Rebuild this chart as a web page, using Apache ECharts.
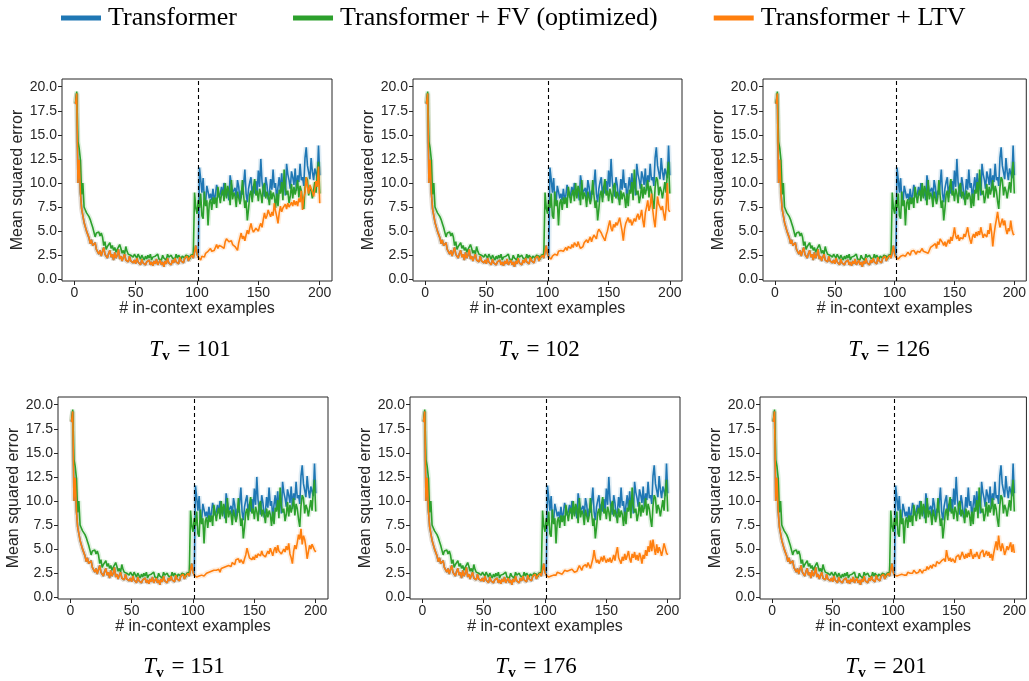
<!DOCTYPE html>
<html>
<head>
<meta charset="utf-8">
<script src="https://cdn.jsdelivr.net/npm/echarts@6/dist/echarts.min.js"></script>
<style>
  html, body { margin: 0; padding: 0; background: #fff; }
  #chart { width: 1029px; height: 681px; }
</style>
</head>
<body>
<div id="chart"></div>
<script>
// Number of in-context examples (x positions 1..200)
const examples = Array.from({ length: 200 }, (_, i) => i + 1);

// Baseline transformer MSE per number of in-context examples
const transformer = [
  18.2, 19.3, 10.0, 12.4, 9.0, 7.3, 6.6, 5.9, 6.1, 5.0,
  4.8, 4.3, 3.7, 4.1, 3.5, 3.3, 3.8, 3.1, 3.2, 2.6,
  3.0, 2.4, 2.9, 3.3, 2.6, 2.8, 2.2, 2.7, 3.0, 2.3,
  2.6, 2.0, 2.8, 2.2, 2.5, 3.1, 2.1, 2.4, 1.9, 2.3,
  2.6, 2.0, 2.2, 1.8, 2.4, 1.9, 2.1, 1.7, 2.0, 1.6,
  2.2, 1.8, 1.9, 1.5, 2.1, 1.7, 1.9, 1.5, 1.8, 1.6,
  2.0, 1.5, 1.8, 1.4, 1.9, 1.6, 2.1, 1.5, 1.7, 2.0,
  1.5, 1.8, 1.3, 1.9, 1.6, 2.2, 1.7, 1.9, 1.5, 2.0,
  1.7, 2.2, 1.8, 2.0, 1.6, 2.3, 1.9, 2.1, 1.7, 2.2,
  2.0, 2.4, 1.9, 2.2, 2.0, 2.5, 2.2, 2.4, 3.5, 2.6,
  2.3, 11.6, 10.4, 9.0, 10.5, 8.3, 7.9, 9.7, 9.1, 8.4,
  8.9, 8.2, 9.4, 8.3, 8.7, 9.8, 9.2, 8.5, 8.9, 9.6,
  8.7, 10.0, 9.1, 8.6, 9.3, 8.2, 10.8, 10.6, 9.0, 8.9,
  9.5, 8.4, 10.3, 9.6, 8.1, 9.2, 8.8, 9.9, 11.4, 8.9,
  8.0, 9.4, 10.1, 10.6, 8.5, 9.7, 8.9, 10.2, 9.0, 11.3,
  9.6, 12.5, 10.1, 9.2, 8.6, 10.6, 9.8, 8.3, 8.9, 10.4,
  9.3, 11.4, 9.5, 10.0, 8.2, 9.6, 10.6, 9.1, 11.0, 9.2,
  10.5, 8.7, 12.0, 10.9, 10.3, 9.4, 11.2, 10.6, 9.8, 11.5,
  9.2, 10.8, 10.1, 12.0, 10.3, 10.6, 9.7, 12.6, 13.7, 11.8,
  12.0, 10.4, 12.6, 11.2, 10.3, 11.5, 11.0, 10.5, 13.9, 10.8
];

// Transformer + function vector (optimized)
const functionVector = [
  18.3, 19.5, 14.3, 13.6, 12.4, 8.8, 10.0, 7.5, 7.2, 6.9,
  7.0, 6.5, 6.2, 5.8, 5.4, 5.6, 4.4, 4.8, 4.6, 4.9,
  4.5, 4.8, 4.4, 3.5, 3.9, 3.1, 3.4, 3.6, 3.8, 3.2,
  3.5, 3.0, 3.3, 2.8, 3.1, 2.9, 3.6, 3.2, 2.7, 3.0,
  2.6, 3.4, 2.9, 2.6, 2.8, 2.5, 2.7, 2.3, 2.6, 2.4,
  2.2, 2.6, 2.4, 2.1, 2.5, 2.3, 2.0, 2.4, 2.1, 2.5,
  2.2, 2.6, 2.0, 2.3, 2.1, 2.4, 2.2, 2.6, 2.1, 2.3,
  2.0, 2.5, 2.2, 2.4, 2.0, 2.6, 2.3, 2.1, 2.5, 2.2,
  2.4, 2.1, 2.6, 2.2, 2.5, 2.3, 2.1, 2.4, 2.6, 2.2,
  2.5, 2.3, 2.4, 2.1, 2.5, 2.3, 2.6, 9.0, 7.4, 6.8,
  8.2, 7.4, 8.9, 6.6, 6.3, 9.1, 7.6, 8.2, 5.6, 7.9,
  8.3, 7.2, 8.5, 7.8, 8.5, 7.4, 9.6, 8.8, 7.9, 8.9,
  9.3, 8.1, 10.0, 8.4, 9.7, 9.2, 7.7, 10.3, 8.3, 9.0,
  8.6, 7.5, 9.1, 8.9, 7.8, 8.5, 10.3, 8.7, 7.4, 8.2,
  6.1, 7.3, 8.8, 9.2, 8.0, 9.6, 10.4, 8.7, 9.2, 8.1,
  9.4, 8.9, 7.9, 9.6, 10.0, 8.4, 9.1, 8.6, 7.7, 9.2,
  8.3, 9.0, 8.6, 7.4, 8.9, 7.6, 9.3, 8.9, 10.1, 8.2,
  11.4, 9.5, 8.8, 9.2, 7.9, 8.6, 9.9, 8.4, 9.6, 8.8,
  9.4, 10.3, 8.5, 9.7, 9.2, 8.1, 7.3, 9.5, 10.6, 10.3,
  8.7, 9.6, 9.2, 8.4, 8.6, 10.1, 9.0, 11.0, 12.2, 8.9
];

// Transformer + LTV: below the split it follows the baseline; these tails cover x = 102..200
const ltvTail101 = [
  2.2, 2.0, 2.4, 2.5, 2.3, 2.7, 2.6, 2.9, 2.7,
  3.2, 2.9, 3.0, 3.0, 3.3, 3.6, 3.2, 3.5, 3.7, 3.4,
  3.6, 3.2, 3.9, 4.2, 4.4, 3.9, 4.1, 4.0, 3.6, 3.7,
  3.4, 3.2, 3.0, 3.8, 4.3, 4.8, 4.2, 4.5, 4.0, 4.6,
  5.1, 4.7, 5.3, 5.8, 5.2, 4.9, 4.8, 5.3, 5.1, 5.0,
  5.5, 5.8, 5.4, 6.2, 6.9, 6.3, 6.6, 7.2, 6.8, 6.5,
  7.0, 6.6, 7.9, 7.1, 6.5, 5.8, 6.9, 7.6, 7.0, 7.4,
  7.2, 7.8, 7.3, 7.9, 7.5, 7.4, 8.0, 7.6, 8.2, 7.7,
  8.1, 7.6, 8.4, 8.0, 9.2, 7.2, 8.5, 9.0, 10.6, 9.6,
  8.9, 9.8, 10.0, 9.1, 8.6, 9.3, 10.2, 9.6, 11.7, 7.9
];
const ltvTail102 = [
  2.2, 2.1, 2.4, 2.3, 2.6, 2.7, 2.5, 2.9, 2.7,
  3.0, 3.2, 2.9, 3.1, 3.3, 3.0, 3.4, 3.4, 3.2, 3.6,
  3.3, 3.8, 3.7, 3.4, 3.9, 3.5, 3.2, 3.0, 3.4, 3.8,
  3.6, 4.1, 3.8, 4.0, 4.4, 3.9, 4.3, 4.6, 4.7, 4.2,
  4.9, 5.2, 5.4, 4.8, 4.5, 4.3, 4.0, 4.6, 5.0, 5.6,
  6.1, 5.3, 5.0, 5.7, 5.4, 5.9, 5.6, 6.0, 6.4, 5.7,
  5.0, 4.0, 5.2, 5.8, 6.1, 6.4, 5.9, 6.2, 5.6, 5.8,
  6.3, 6.0, 6.5, 6.8, 6.2, 6.6, 7.2, 6.1, 5.4, 6.9,
  7.5, 8.2, 7.1, 7.6, 8.9, 7.3, 6.2, 5.4, 7.0, 8.6,
  7.8, 8.0, 7.2, 7.6, 6.8, 6.1, 7.4, 10.0, 7.2, 7.0
];
const ltvTail126 = [
  2.2, 2.1, 2.3, 2.4, 2.2, 2.5, 2.6, 2.4, 2.6,
  2.8, 2.7, 2.5, 2.9, 2.7, 3.0, 2.8, 2.6, 2.9, 3.1,
  2.8, 3.0, 3.2, 2.9, 3.1, 2.8, 3.0, 2.7, 2.9, 3.3,
  3.1, 3.5, 3.4, 3.7, 3.2, 3.9, 3.6, 4.2, 4.4, 3.8,
  3.5, 3.9, 3.4, 3.8, 4.1, 3.7, 4.4, 4.0, 4.6, 5.4,
  4.5, 4.2, 4.6, 4.0, 4.3, 4.5, 4.2, 4.7, 4.4, 4.9,
  5.4, 4.6, 4.1, 3.7, 4.4, 4.7, 4.3, 4.9, 4.5, 5.0,
  4.6, 5.4, 4.8, 4.3, 4.7, 4.9, 4.4, 5.1, 4.7, 5.8,
  4.9, 3.4, 4.6, 5.5, 6.2, 7.0, 6.1, 5.4, 5.4, 6.3,
  5.6, 6.1, 5.2, 4.7, 5.3, 5.0, 6.1, 5.2, 4.7, 4.6
];
const ltvTail151 = [
  2.1, 2.1, 2.3, 2.2, 2.4, 2.3, 2.5, 2.2, 2.4,
  2.5, 2.3, 2.6, 2.4, 2.7, 2.5, 2.8, 2.6, 2.8, 2.7,
  2.9, 2.6, 3.0, 2.8, 3.1, 2.9, 3.2, 3.0, 3.3, 3.4,
  3.2, 3.6, 3.7, 3.4, 3.9, 3.7, 4.0, 3.6, 3.9, 3.7,
  3.5, 4.0, 4.4, 5.1, 4.6, 4.1, 4.3, 3.9, 4.2, 3.9,
  4.4, 4.1, 4.5, 4.7, 4.3, 4.8, 4.4, 4.6, 4.2, 4.4,
  4.8, 4.5, 5.1, 4.7, 4.3, 4.9, 5.2, 4.6, 5.4, 4.8,
  5.0, 4.5, 4.4, 5.0, 4.7, 5.3, 4.9, 5.6, 4.5, 4.1,
  3.5, 4.8, 5.4, 5.0, 5.7, 6.5, 6.0, 7.1, 5.5, 6.4,
  6.0, 5.2, 4.0, 4.7, 5.4, 5.0, 5.5, 5.7, 4.9, 4.7
];
const ltvTail176 = [
  2.2, 2.1, 2.3, 2.2, 2.4, 2.3, 2.5, 2.3, 2.6,
  2.4, 2.5, 2.7, 2.4, 2.6, 2.8, 2.6, 2.7, 2.5, 2.8,
  2.7, 2.9, 2.7, 2.6, 2.8, 2.7, 3.0, 3.3, 3.1, 2.8,
  3.2, 3.0, 3.4, 3.1, 3.6, 3.3, 3.0, 3.5, 4.0, 4.9,
  4.1, 3.6, 3.9, 3.5, 3.8, 4.2, 3.7, 4.3, 3.9, 3.6,
  4.0, 3.7, 4.1, 3.6, 3.9, 4.4, 3.8, 4.6, 5.2, 4.1,
  3.9, 3.5, 4.2, 3.8, 4.5, 3.9, 4.3, 4.8, 4.0, 3.6,
  4.5, 4.1, 4.7, 3.9, 4.4, 3.8, 4.6, 4.2, 3.5, 4.4,
  4.0, 4.9, 4.3, 5.3, 4.7, 5.9, 4.8, 6.0, 5.1, 4.4,
  5.5, 4.6, 5.2, 4.8, 4.3, 4.9, 5.6, 5.1, 4.6, 4.4
];
const ltvTail201 = [
  2.1, 2.2, 2.0, 2.3, 2.1, 2.4, 2.2, 2.3, 2.5,
  2.3, 2.6, 2.4, 2.5, 2.7, 2.5, 2.8, 2.6, 2.5, 2.7,
  2.6, 2.9, 2.7, 2.5, 2.8, 3.0, 2.8, 3.2, 2.9, 3.1,
  3.3, 3.0, 3.4, 3.6, 3.2, 3.7, 3.9, 3.5, 3.3, 3.8,
  3.6, 4.0, 3.7, 4.9, 4.2, 3.8, 4.1, 3.7, 4.0, 3.9,
  3.6, 4.2, 4.0, 4.4, 3.9, 4.1, 4.7, 4.3, 4.0, 4.5,
  4.1, 4.6, 4.2, 5.0, 4.4, 4.0, 4.5, 4.2, 4.7, 4.3,
  4.0, 4.6, 4.4, 4.9, 4.2, 4.5, 4.8, 4.3, 4.7, 4.1,
  4.5, 3.8, 4.6, 5.2, 5.8, 4.9, 6.4, 5.3, 4.8, 5.6,
  5.1, 4.4, 4.8, 5.3, 4.9, 5.0, 5.7, 4.7, 5.5, 4.6
];

// Panel parameters
const panelTv = [101, 102, 126, 151, 176, 201];
const ltvTails = [ltvTail101, ltvTail102, ltvTail126, ltvTail151, ltvTail176, ltvTail201];
const splitPoint = 101;      // dashed reference line
const yTicks = [0, 2.5, 5, 7.5, 10, 12.5, 15, 17.5, 20];
const xTicks = [0, 50, 100, 150, 200];
const seriesNames = ['Transformer', 'Transformer + FV (optimized)', 'Transformer + LTV'];

const colors = ['#1f77b4', '#2ca02c', '#ff7f0e'];
const ink = '#262626';

// Grid placement for the 2 x 3 layout
const grids = [
  { left: 62,  top: 79,  width: 270, height: 202 },
  { left: 413, top: 79,  width: 269, height: 202 },
  { left: 763, top: 79,  width: 269, height: 202 },
  { left: 58,  top: 397, width: 270, height: 202 },
  { left: 410, top: 397, width: 270, height: 202 },
  { left: 760, top: 397, width: 270, height: 202 }
];
const titleCenters = [[190, 350], [539, 350], [889, 350], [184, 667], [536, 667], [886, 667]];

function toPairs(vals) { return vals.map((v, i) => [examples[i], v]); }

const gridOpts = [], xAxes = [], yAxes = [], series = [], graphics = [];

grids.forEach((g, p) => {
  gridOpts.push(Object.assign({ show: true, borderColor: ink, borderWidth: 1, backgroundColor: '#fff' }, g));
  xAxes.push({
    type: 'value', gridIndex: p, min: -10, max: 210,
    name: '# in-context examples', nameLocation: 'middle', nameGap: 20,
    nameTextStyle: { fontFamily: 'Liberation Sans', fontSize: 16, color: ink },
    axisLine: { show: false, onZero: false },
    axisTick: { show: true, length: 4, customValues: xTicks, lineStyle: { color: ink, width: 1 } },
    axisLabel: { customValues: xTicks, margin: 5, fontFamily: 'Liberation Sans', fontSize: 14, color: ink },
    splitLine: { show: false }
  });
  yAxes.push({
    type: 'value', gridIndex: p, min: -0.18, max: 20.8,
    name: 'Mean squared error', nameLocation: 'middle', nameGap: 35, nameRotate: 90,
    nameTextStyle: { fontFamily: 'Liberation Sans', fontSize: 16, color: ink },
    axisLine: { show: false, onZero: false },
    axisTick: { show: true, length: 4, customValues: yTicks, lineStyle: { color: ink, width: 1 } },
    axisLabel: { customValues: yTicks, margin: 5, fontFamily: 'Liberation Sans', fontSize: 14, color: ink,
      formatter: v => Number(v).toFixed(1) },
    splitLine: { show: false }
  });

  const ltv = transformer.slice(0, splitPoint).concat(ltvTails[p]);
  const lines = [transformer, functionVector, ltv];

  // soft uncertainty halos underneath
  lines.forEach((vals, k) => {
    series.push({
      name: seriesNames[k] + ' band', type: 'line', xAxisIndex: p, yAxisIndex: p,
      data: toPairs(vals), showSymbol: false, symbol: 'none', silent: true, z: 1,
      color: colors[k],
      lineStyle: { color: colors[k], width: 5, opacity: 0.14 }
    });
  });
  // main curves
  lines.forEach((vals, k) => {
    const s = {
      name: seriesNames[k], type: 'line', xAxisIndex: p, yAxisIndex: p,
      data: toPairs(vals), showSymbol: false, symbol: 'none', z: 2 + k,
      color: colors[k],
      lineStyle: { color: colors[k], width: 1.6 }
    };
    if (k === 0) {
      s.markLine = {
        silent: true, symbol: 'none', label: { show: false }, z: 10,
        lineStyle: { color: '#000', type: [4, 3], width: 1.1 },
        data: [{ xAxis: splitPoint }]
      };
    }
    series.push(s);
  });

  graphics.push({
    type: 'text', x: titleCenters[p][0], y: titleCenters[p][1],
    style: {
      text: '{t|T}{s|v}{n| = ' + panelTv[p] + '}',
      align: 'center', verticalAlign: 'middle',
      rich: {
        t: { fontFamily: 'Liberation Serif', fontStyle: 'italic', fontSize: 23, color: '#000', lineHeight: 26 },
        s: { fontFamily: 'Liberation Serif', fontWeight: 'bold', fontSize: 15, color: '#000', lineHeight: 26, padding: [12, 2, 0, 0] },
        n: { fontFamily: 'Liberation Serif', fontSize: 23, color: '#000', lineHeight: 26 }
      }
    }
  });
});

const chart = echarts.init(document.getElementById('chart'), null, { renderer: 'canvas' });
chart.setOption({
  animation: false,
  backgroundColor: '#fff',
  legend: {
    data: seriesNames, left: 56, top: 0, icon: 'rect',
    itemWidth: 40, itemHeight: 5, itemGap: 56,
    textStyle: { fontFamily: 'Liberation Serif', fontSize: 26, color: '#000', padding: [0, 0, 0, 2] }
  },
  grid: gridOpts,
  xAxis: xAxes,
  yAxis: yAxes,
  series: series,
  graphic: graphics
});
</script>
</body>
</html>
